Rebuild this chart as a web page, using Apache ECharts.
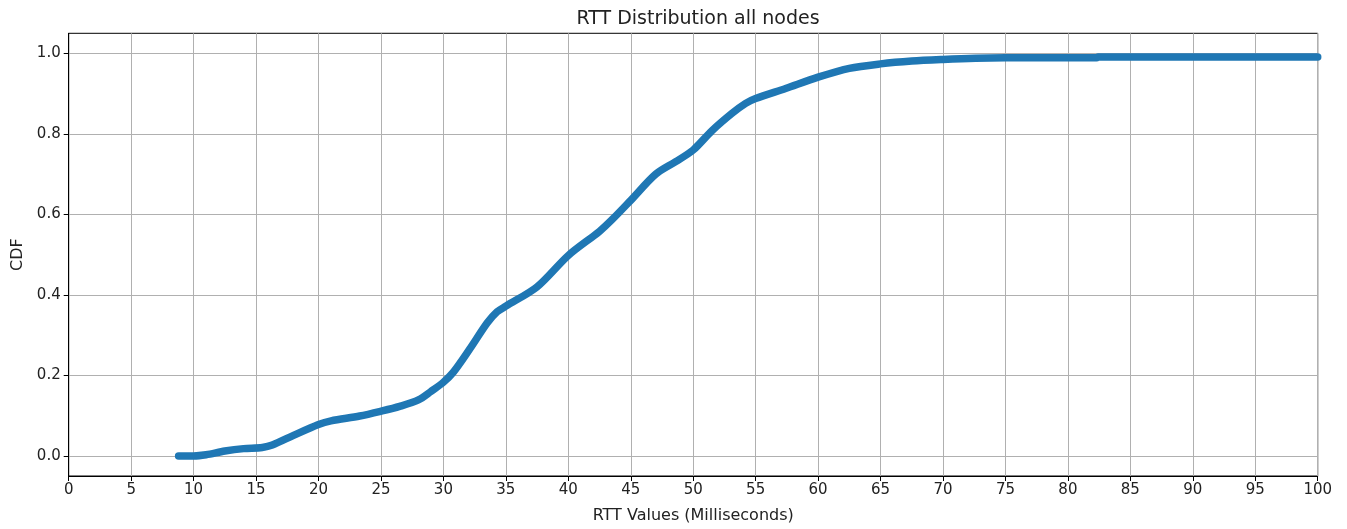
<!DOCTYPE html>
<html>
<head>
<meta charset="utf-8">
<script src="https://cdn.jsdelivr.net/npm/echarts@6/dist/echarts.min.js"></script>
<style>
  html, body { margin: 0; padding: 0; background: #fff; }
  #chart { width: 1347px; height: 529px; }
</style>
</head>
<body>
<div id="chart"></div>
<script>
// RTT values in milliseconds and the cumulative fraction of samples at or below each
const rttValues = [8.8, 10, 11, 12.5, 14, 15.5, 16.3, 18, 20, 21, 23.3, 25, 26.5, 28, 29, 30,
  30.8, 32.1, 33.5, 34.3, 35, 37.5, 40, 42.5, 43.6, 45, 47, 48.6, 50, 51.5, 53.1, 54.2, 55,
  57.4, 60, 62.5, 65, 67.5, 70, 72.6, 75, 82.3, 82.4, 100];
const cdfValues = [0.0, 0.0, 0.003, 0.012, 0.018, 0.021, 0.027, 0.051, 0.078, 0.087, 0.099, 0.111, 0.123, 0.139, 0.16, 0.183,
  0.208, 0.265, 0.33, 0.358, 0.372, 0.42, 0.498, 0.558, 0.59, 0.635, 0.70, 0.731, 0.76, 0.808, 0.851, 0.876, 0.888,
  0.913, 0.941, 0.963, 0.974, 0.981, 0.985, 0.988, 0.989, 0.989, 0.991, 0.991];
const yTickValues = [0.0, 0.2, 0.4, 0.6, 0.8, 1.0];

const font = 'DejaVu Sans';
const chart = echarts.init(document.getElementById('chart'));
chart.setOption({
  animation: false,
  backgroundColor: '#fff',
  title: {
    text: 'RTT Distribution all nodes',
    left: 693, top: 5, textAlign: 'center',
    textStyle: { fontFamily: font, fontSize: 19, fontWeight: 'normal', color: '#222' }
  },
  grid: {
    left: 68.7, right: 29.3, top: 33.3, bottom: 51.7,
    show: true, borderColor: '#000', borderWidth: 1, backgroundColor: 'transparent'
  },
  xAxis: {
    type: 'value', min: 0, max: 100, interval: 5,
    name: 'RTT Values (Milliseconds)', nameLocation: 'middle', nameGap: 32,
    nameTextStyle: { fontFamily: font, fontSize: 16, color: '#222' },
    axisLine: { show: true, onZero: false, lineStyle: { color: '#000', width: 1 } },
    axisTick: { show: true, inside: false, length: 5, lineStyle: { color: '#000', width: 1 } },
    axisLabel: { fontFamily: font, fontSize: 15, color: '#222', margin: 7 },
    splitLine: { show: true, lineStyle: { color: '#b0b0b0', width: 1 } }
  },
  yAxis: {
    type: 'value', min: -0.05, max: 1.05,
    name: 'CDF', nameLocation: 'middle', nameGap: 43, nameRotate: 90,
    nameTextStyle: { fontFamily: font, fontSize: 16, color: '#222' },
    axisLine: { show: true, onZero: false, lineStyle: { color: '#000', width: 1 } },
    axisTick: { show: true, inside: false, length: 5, customValues: yTickValues, lineStyle: { color: '#000', width: 1 } },
    axisLabel: {
      fontFamily: font, fontSize: 15, color: '#222', margin: 8,
      customValues: yTickValues,
      formatter: v => v.toFixed(1)
    },
    splitLine: { show: false }
  },
  series: [{
    type: 'line',
    data: rttValues.map((x, i) => [x, cdfValues[i]]),
    smooth: 0.3,
    showSymbol: false,
    clip: false,
    lineStyle: { color: '#1f77b4', width: 7.5, cap: 'round', join: 'round' },
    markLine: {
      silent: true, symbol: 'none', label: { show: false },
      lineStyle: { color: '#b0b0b0', width: 1, type: 'solid' },
      z: 0,
      data: yTickValues.map(v => ({ yAxis: v }))
    },
    z: 3
  }]
});
</script>
</body>
</html>
